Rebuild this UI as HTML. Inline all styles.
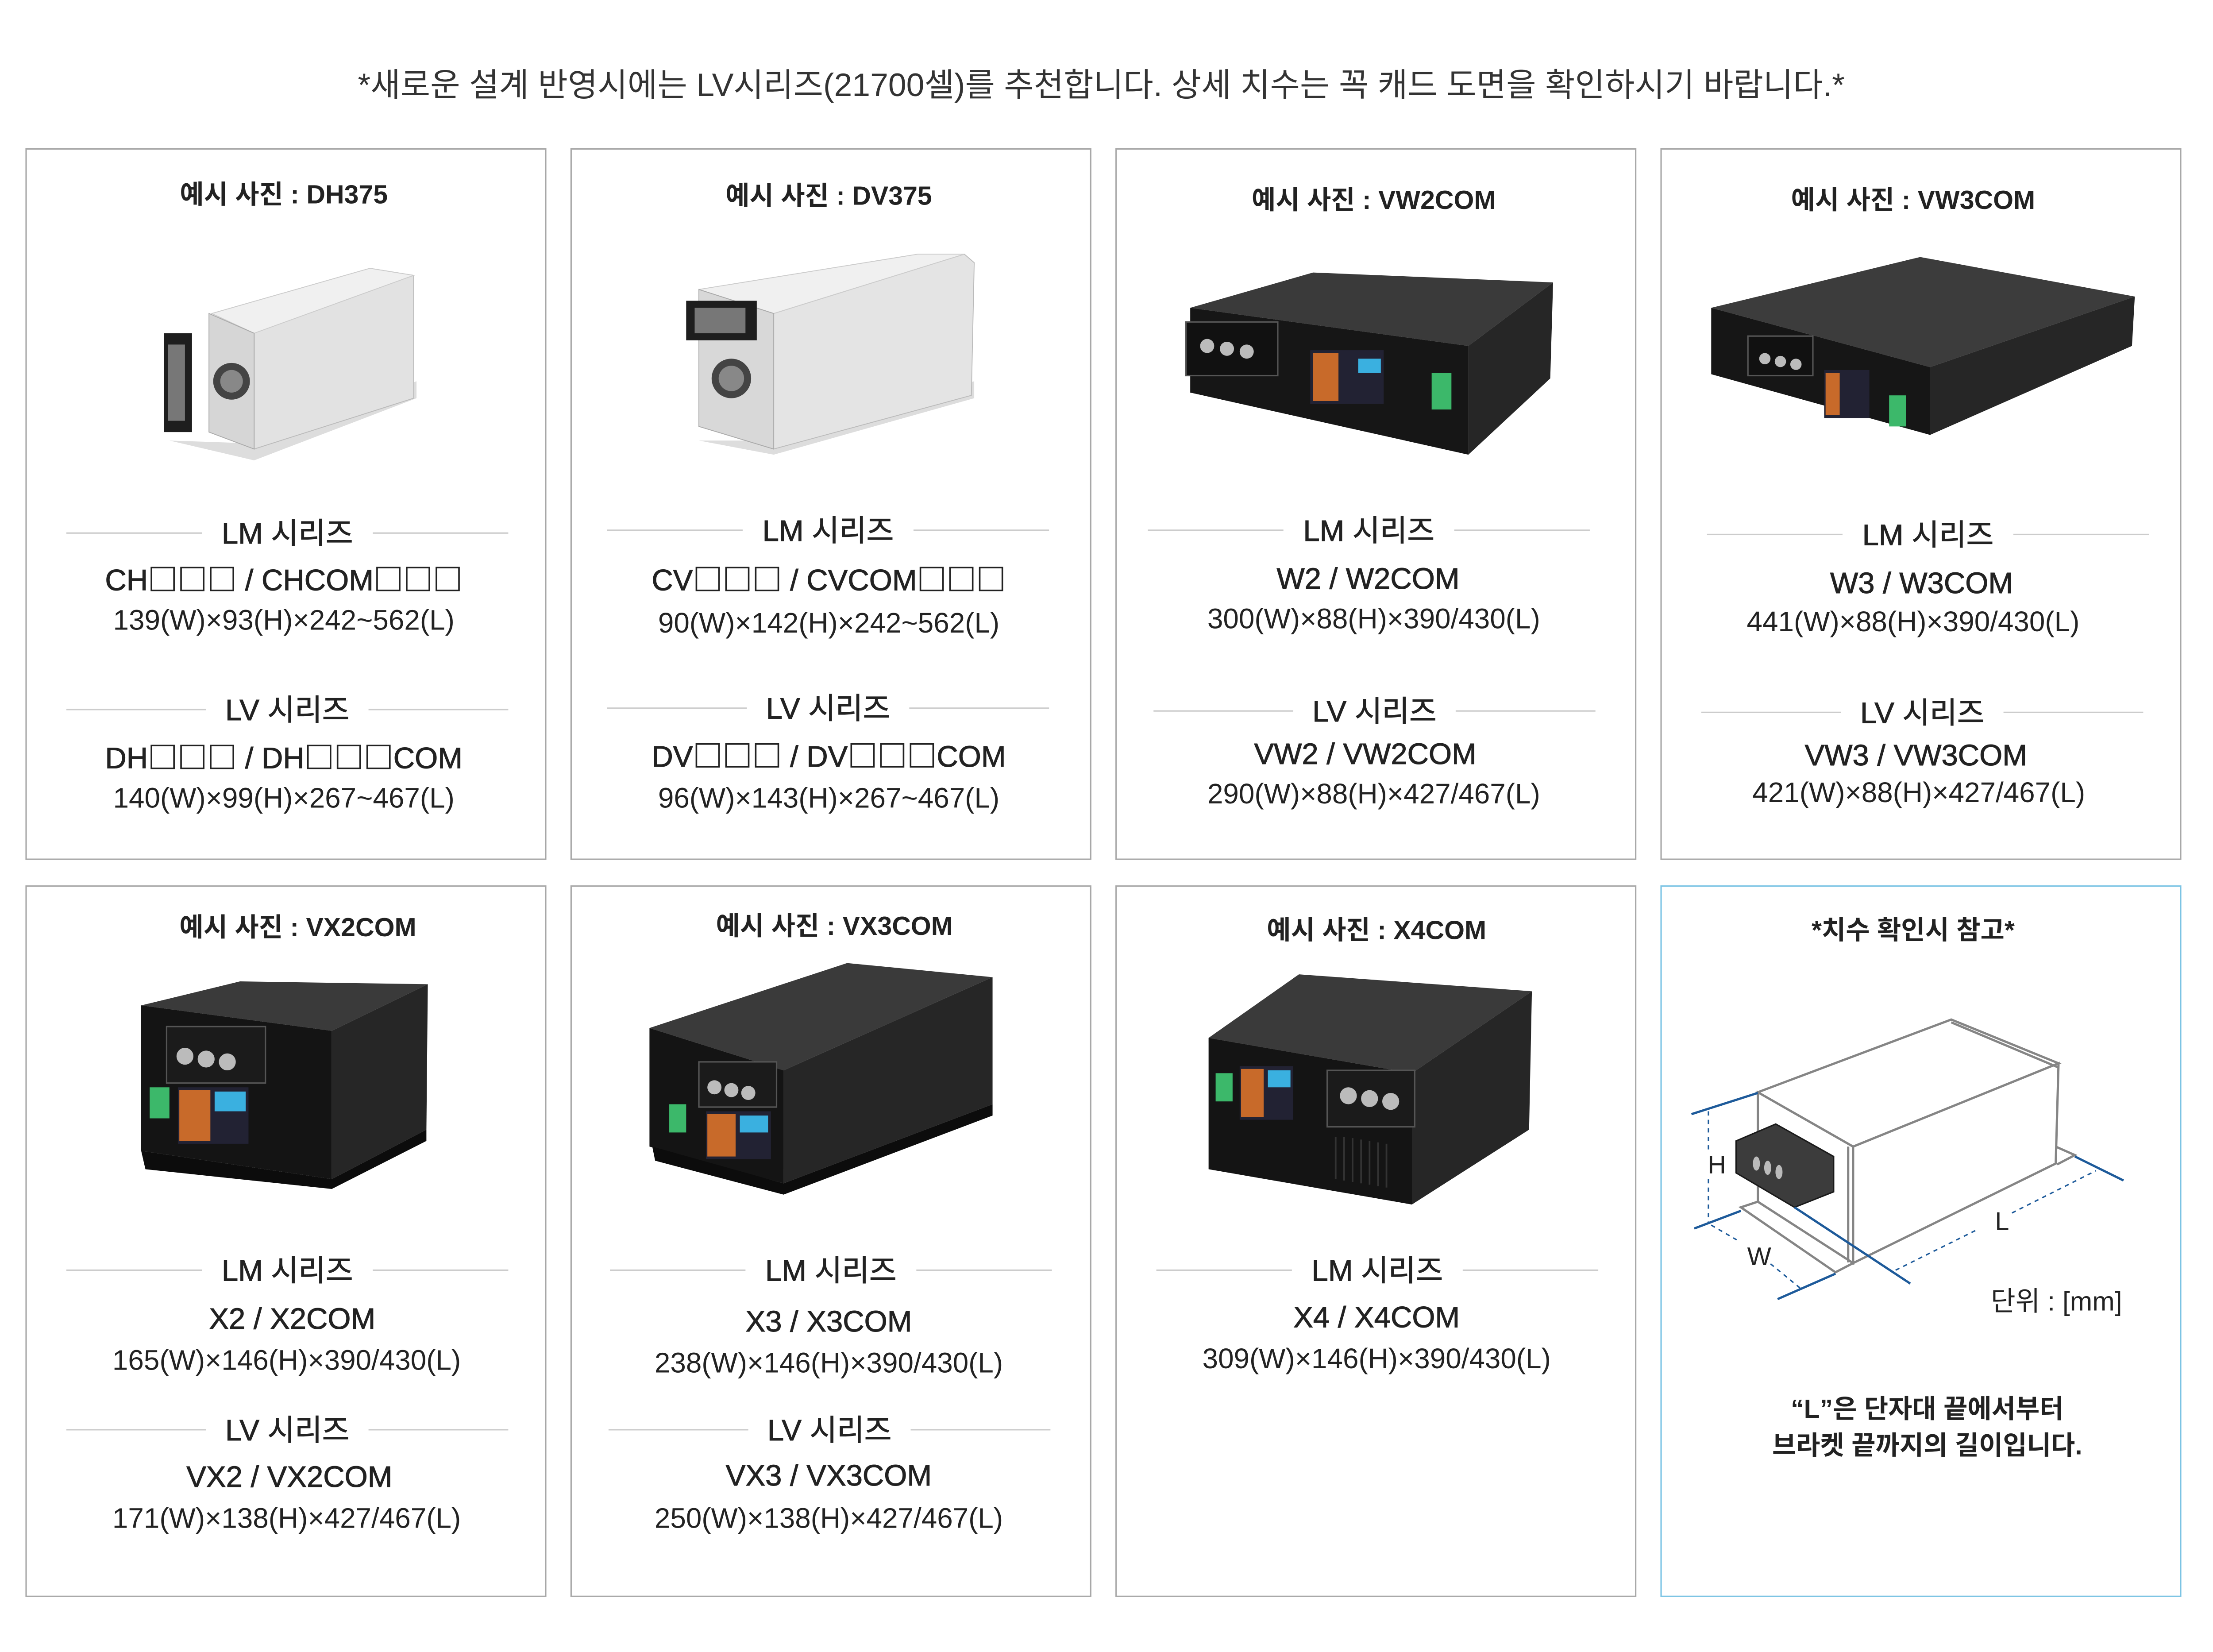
<!DOCTYPE html>
<html><head><meta charset="utf-8">
<style>
html,body{margin:0;padding:0;background:#fff;}
body{width:5075px;height:3729px;overflow:hidden;position:relative;}
#s{position:absolute;left:0;top:0;width:1590px;height:1170px;transform-origin:0 0;transform:scale(3.19);font-family:"Liberation Sans","Noto Sans CJK KR",sans-serif;color:#222;}
.card{position:absolute;width:369px;height:504px;border:1px solid #a8a8a8;box-sizing:border-box;}
.t{position:absolute;height:30px;line-height:30px;text-align:center;white-space:nowrap;}
.ct{font-size:18.5px;font-weight:bold;color:#222;}
.md{font-size:21px;-webkit-text-stroke:0.35px #222;}
.dm{font-size:20px;}
.sq{font-family:"Noto Sans CJK KR",sans-serif;font-weight:normal;}
.sh{position:absolute;height:30px;display:flex;align-items:center;}
.sh .l{flex:1;height:1px;background:#ccc;}
.sh span{font-size:21px;padding:0 14px;-webkit-text-stroke:0.35px #222;white-space:nowrap;}
svg{position:absolute;left:0;top:0;}
</style></head><body><div id="s">
<div class="t" style="left:0;width:1560px;top:45px;font-size:23px;color:#333">*새로운 설계 반영시에는 LV시리즈(21700셀)를 추천합니다. 상세 치수는 꼭 캐드 도면을 확인하시기 바랍니다.*</div>

<div class="card" style="left:18px;top:105px"></div>
<div class="card" style="left:404px;top:105px"></div>
<div class="card" style="left:790px;top:105px"></div>
<div class="card" style="left:1176px;top:105px"></div>
<div class="card" style="left:18px;top:627px"></div>
<div class="card" style="left:404px;top:627px"></div>
<div class="card" style="left:790px;top:627px"></div>
<div class="card" style="left:1176px;top:627px;border-color:#7cc4e4"></div>

<svg width="1560" height="1146" viewBox="0 0 1560 1146">
<g>
<polygon points="120,312 180,326 295,282 295,270 180,314" fill="#ddd"/>
<polygon points="180,236 262,190 293,195 293,282 180,318" fill="#e2e2e2" stroke="#bbb" stroke-width="0.6"/>
<polygon points="150,222 262,190 293,195 180,236" fill="#f0f0f0" stroke="#ccc" stroke-width="0.6"/>
<polygon points="148,222 180,236 180,318 148,306" fill="#d6d6d6" stroke="#aaa" stroke-width="0.6"/>
<circle cx="164" cy="270" r="13" fill="#444"/><circle cx="164" cy="270" r="8" fill="#888"/>
<rect x="116" y="236" width="20" height="70" fill="#1e1e1e"/><rect x="119" y="244" width="12" height="54" fill="#777"/>
</g>
<g>
<polygon points="495,312 548,322 690,282 690,270 548,312" fill="#ddd"/>
<polygon points="548,222 683,180 690,186 688,280 548,318" fill="#e4e4e4" stroke="#bbb" stroke-width="0.6"/>
<polygon points="495,205 650,180 683,180 548,222" fill="#f0f0f0" stroke="#ccc" stroke-width="0.6"/>
<polygon points="495,205 548,222 548,318 495,302" fill="#d8d8d8" stroke="#aaa" stroke-width="0.6"/>
<circle cx="518" cy="268" r="14" fill="#444"/><circle cx="518" cy="268" r="9" fill="#888"/>
<rect x="486" y="213" width="50" height="28" fill="#1e1e1e"/><rect x="492" y="218" width="36" height="18" fill="#777"/>
</g>
<g>
<polygon points="843,218 930,193 1100,200 1040,245" fill="#3a3a3a"/>
<polygon points="843,218 1040,245 1040,322 843,278" fill="#161616"/>
<polygon points="1040,245 1100,200 1098,268 1040,322" fill="#262626"/>
<rect x="840" y="228" width="65" height="38" fill="#111" stroke="#555" stroke-width="1"/>
<circle cx="855" cy="245" r="5" fill="#bbb"/><circle cx="869" cy="247" r="5" fill="#bbb"/><circle cx="883" cy="249" r="5" fill="#bbb"/>
<rect x="928" y="248" width="52" height="38" fill="#223"/><rect x="930" y="250" width="18" height="34" fill="#c86a2a"/><rect x="962" y="254" width="16" height="10" fill="#3ab0e0"/>
<rect x="1014" y="264" width="14" height="26" fill="#3cb86a"/>
</g>
<g>
<polygon points="1212,218 1360,182 1512,210 1367,260" fill="#3c3c3c"/>
<polygon points="1212,218 1367,260 1367,308 1212,265" fill="#161616"/>
<polygon points="1367,260 1512,210 1510,245 1367,308" fill="#262626"/>
<rect x="1238" y="238" width="46" height="28" fill="#111" stroke="#555"/>
<circle cx="1250" cy="254" r="4" fill="#bbb"/><circle cx="1261" cy="256" r="4" fill="#bbb"/><circle cx="1272" cy="258" r="4" fill="#bbb"/>
<rect x="1292" y="262" width="32" height="34" fill="#223"/><rect x="1293" y="264" width="10" height="30" fill="#c86a2a"/>
<rect x="1338" y="280" width="12" height="22" fill="#3cb86a"/>
</g>
<g>
<polygon points="100,712 170,695 303,697 235,730" fill="#3a3a3a"/>
<polygon points="100,712 235,730 235,835 100,815" fill="#141414"/>
<polygon points="235,730 303,697 302,800 235,835" fill="#262626"/>
<polygon points="100,815 235,835 302,800 302,808 235,842 103,828" fill="#0c0c0c"/>
<rect x="118" y="727" width="70" height="40" fill="#1b1b1b" stroke="#555"/>
<circle cx="131" cy="748" r="6" fill="#bbb"/><circle cx="146" cy="750" r="6" fill="#bbb"/><circle cx="161" cy="752" r="6" fill="#bbb"/>
<rect x="126" y="770" width="50" height="40" fill="#223"/><rect x="127" y="772" width="22" height="36" fill="#c86a2a"/><rect x="152" y="773" width="22" height="14" fill="#3ab0e0"/>
<rect x="106" y="770" width="14" height="22" fill="#3cb86a"/>
</g>
<g>
<polygon points="460,728 600,682 703,692 555,758" fill="#3a3a3a"/>
<polygon points="460,728 555,758 555,838 460,812" fill="#141414"/>
<polygon points="555,758 703,692 703,782 555,838" fill="#262626"/>
<polygon points="462,812 555,838 703,782 703,790 555,846 464,822" fill="#0c0c0c"/>
<rect x="495" y="752" width="55" height="32" fill="#1b1b1b" stroke="#555"/>
<circle cx="506" cy="770" r="5" fill="#bbb"/><circle cx="518" cy="772" r="5" fill="#bbb"/><circle cx="530" cy="774" r="5" fill="#bbb"/>
<rect x="500" y="787" width="46" height="34" fill="#223"/><rect x="501" y="789" width="20" height="30" fill="#c86a2a"/><rect x="524" y="790" width="20" height="12" fill="#3ab0e0"/>
<rect x="474" y="782" width="12" height="20" fill="#3cb86a"/>
</g>
<g>
<polygon points="856,735 920,690 1085,702 1000,760" fill="#3a3a3a"/>
<polygon points="856,735 1000,760 1000,853 856,828" fill="#141414"/>
<polygon points="1000,760 1085,702 1083,800 1000,853" fill="#262626"/>
<rect x="940" y="758" width="62" height="40" fill="#1b1b1b" stroke="#555"/>
<circle cx="955" cy="776" r="6" fill="#bbb"/><circle cx="970" cy="778" r="6" fill="#bbb"/><circle cx="985" cy="780" r="6" fill="#bbb"/>
<rect x="878" y="755" width="38" height="38" fill="#223"/><rect x="879" y="757" width="16" height="34" fill="#c86a2a"/><rect x="898" y="758" width="16" height="12" fill="#3ab0e0"/>
<rect x="861" y="760" width="12" height="20" fill="#3cb86a"/>
<g stroke="#333" stroke-width="1.2"><line x1="946" y1="805" x2="946" y2="835"/><line x1="952" y1="805" x2="952" y2="836"/><line x1="958" y1="806" x2="958" y2="837"/><line x1="964" y1="807" x2="964" y2="838"/><line x1="970" y1="808" x2="970" y2="839"/><line x1="976" y1="809" x2="976" y2="840"/><line x1="982" y1="810" x2="982" y2="841"/></g>
</g>
<g fill="none" stroke="#858585" stroke-width="1.6">
<polygon points="1245,773.5 1382,722 1458,753 1312.5,812" fill="#fff"/>
<polygon points="1245,773.5 1312.5,812 1312.5,894.5 1245,851" fill="#fff"/>
<polygon points="1312.5,812 1458,753 1456,824 1312.5,894.5" fill="#fff"/>
<polyline points="1245,851 1233,855 1300,901 1312.5,894.5"/>
<polyline points="1456,812 1469.6,818 1457,824.6"/>
<line x1="1382" y1="724" x2="1458" y2="756"/>
<line x1="1309" y1="812" x2="1309" y2="894"/>
</g>
<polygon points="1229.6,808 1257.7,796 1298.7,819 1298.7,844 1271,855 1229.6,830.6" fill="#3c3c3c" stroke="#1a1a1a" stroke-width="1"/>
<ellipse cx="1244" cy="824" rx="2.5" ry="5" fill="#bbb"/><ellipse cx="1252" cy="827" rx="2.5" ry="5" fill="#bbb"/><ellipse cx="1260" cy="830" rx="2.5" ry="5" fill="#bbb"/>
<g stroke="#1d5a9a" stroke-width="1.6">
<line x1="1198" y1="789" x2="1245" y2="774"/>
<line x1="1200" y1="870" x2="1233" y2="857.5"/>
<line x1="1259" y1="920" x2="1300" y2="902"/>
<line x1="1271" y1="855" x2="1353" y2="909"/>
<line x1="1469.6" y1="819" x2="1504" y2="836"/>
</g>
<g stroke="#1d5a9a" stroke-width="1" stroke-dasharray="3,3">
<line x1="1210" y1="787" x2="1210" y2="815"/><line x1="1210" y1="835" x2="1210" y2="866"/>
<line x1="1212" y1="867.6" x2="1230" y2="878"/><line x1="1254" y1="895" x2="1276" y2="913"/>
<line x1="1342.6" y1="899.5" x2="1400" y2="871"/><line x1="1425" y1="859" x2="1484.6" y2="829"/>
</g>
<g font-family="Liberation Sans, sans-serif" font-size="18" fill="#222" text-anchor="middle">
<text x="1216" y="831">H</text><text x="1246" y="896">W</text><text x="1418" y="871">L</text>
</g>
</svg>

<div class="t ct" style="left:18px;width:366px;top:123px">예시 사진 : DH375</div>
<div class="sh" style="left:47px;width:313px;top:362px"><div class="l"></div><span>LM 시리즈</span><div class="l"></div></div>
<div class="t md" style="left:18px;width:366px;top:395px">CH<span class="sq">□□□</span> / CHCOM<span class="sq">□□□</span></div>
<div class="t dm" style="left:18px;width:366px;top:425px">139(W)×93(H)×242~562(L)</div>
<div class="sh" style="left:47px;width:313px;top:487px"><div class="l"></div><span>LV 시리즈</span><div class="l"></div></div>
<div class="t md" style="left:18px;width:366px;top:521px">DH<span class="sq">□□□</span> / DH<span class="sq">□□□</span>COM</div>
<div class="t dm" style="left:18px;width:366px;top:551px">140(W)×99(H)×267~467(L)</div>

<div class="t ct" style="left:404px;width:366px;top:124px">예시 사진 : DV375</div>
<div class="sh" style="left:430px;width:313px;top:360px"><div class="l"></div><span>LM 시리즈</span><div class="l"></div></div>
<div class="t md" style="left:404px;width:366px;top:395px">CV<span class="sq">□□□</span> / CVCOM<span class="sq">□□□</span></div>
<div class="t dm" style="left:404px;width:366px;top:427px">90(W)×142(H)×242~562(L)</div>
<div class="sh" style="left:430px;width:313px;top:486px"><div class="l"></div><span>LV 시리즈</span><div class="l"></div></div>
<div class="t md" style="left:404px;width:366px;top:520px">DV<span class="sq">□□□</span> / DV<span class="sq">□□□</span>COM</div>
<div class="t dm" style="left:404px;width:366px;top:551px">96(W)×143(H)×267~467(L)</div>

<div class="t ct" style="left:790px;width:366px;top:127px">예시 사진 : VW2COM</div>
<div class="sh" style="left:813px;width:313px;top:360px"><div class="l"></div><span>LM 시리즈</span><div class="l"></div></div>
<div class="t md" style="left:786px;width:366px;top:396px">W2 / W2COM</div>
<div class="t dm" style="left:790px;width:366px;top:424px">300(W)×88(H)×390/430(L)</div>
<div class="sh" style="left:817px;width:313px;top:488px"><div class="l"></div><span>LV 시리즈</span><div class="l"></div></div>
<div class="t md" style="left:784px;width:366px;top:520px">VW2 / VW2COM</div>
<div class="t dm" style="left:790px;width:366px;top:548px">290(W)×88(H)×427/467(L)</div>

<div class="t ct" style="left:1172px;width:366px;top:127px">예시 사진 : VW3COM</div>
<div class="sh" style="left:1209px;width:313px;top:363px"><div class="l"></div><span>LM 시리즈</span><div class="l"></div></div>
<div class="t md" style="left:1178px;width:366px;top:399px">W3 / W3COM</div>
<div class="t dm" style="left:1172px;width:366px;top:426px">441(W)×88(H)×390/430(L)</div>
<div class="sh" style="left:1205px;width:313px;top:489px"><div class="l"></div><span>LV 시리즈</span><div class="l"></div></div>
<div class="t md" style="left:1174px;width:366px;top:521px">VW3 / VW3COM</div>
<div class="t dm" style="left:1176px;width:366px;top:547px">421(W)×88(H)×427/467(L)</div>

<div class="t ct" style="left:28px;width:366px;top:642px">예시 사진 : VX2COM</div>
<div class="sh" style="left:47px;width:313px;top:884px"><div class="l"></div><span>LM 시리즈</span><div class="l"></div></div>
<div class="t md" style="left:24px;width:366px;top:920px">X2 / X2COM</div>
<div class="t dm" style="left:20px;width:366px;top:949px">165(W)×146(H)×390/430(L)</div>
<div class="sh" style="left:47px;width:313px;top:997px"><div class="l"></div><span>LV 시리즈</span><div class="l"></div></div>
<div class="t md" style="left:22px;width:366px;top:1032px">VX2 / VX2COM</div>
<div class="t dm" style="left:20px;width:366px;top:1061px">171(W)×138(H)×427/467(L)</div>

<div class="t ct" style="left:408px;width:366px;top:641px">예시 사진 : VX3COM</div>
<div class="sh" style="left:432px;width:313px;top:884px"><div class="l"></div><span>LM 시리즈</span><div class="l"></div></div>
<div class="t md" style="left:404px;width:366px;top:922px">X3 / X3COM</div>
<div class="t dm" style="left:404px;width:366px;top:951px">238(W)×146(H)×390/430(L)</div>
<div class="sh" style="left:431px;width:313px;top:997px"><div class="l"></div><span>LV 시리즈</span><div class="l"></div></div>
<div class="t md" style="left:404px;width:366px;top:1031px">VX3 / VX3COM</div>
<div class="t dm" style="left:404px;width:366px;top:1061px">250(W)×138(H)×427/467(L)</div>

<div class="t ct" style="left:792px;width:366px;top:644px">예시 사진 : X4COM</div>
<div class="sh" style="left:819px;width:313px;top:884px"><div class="l"></div><span>LM 시리즈</span><div class="l"></div></div>
<div class="t md" style="left:792px;width:366px;top:919px">X4 / X4COM</div>
<div class="t dm" style="left:792px;width:366px;top:948px">309(W)×146(H)×390/430(L)</div>

<div class="t ct" style="left:1172px;width:366px;top:644px">*치수 확인시 참고*</div>
<div class="t" style="left:1410px;width:160px;text-align:left;top:908px;font-size:19px">단위 : [mm]</div>
<div class="t ct" style="left:1182px;width:366px;top:986px;line-height:23px;height:23px">“L”은 단자대 끝에서부터</div>
<div class="t ct" style="left:1182px;width:366px;top:1012px;line-height:23px;height:23px">브라켓 끝까지의 길이입니다.</div>
</div></body></html>
